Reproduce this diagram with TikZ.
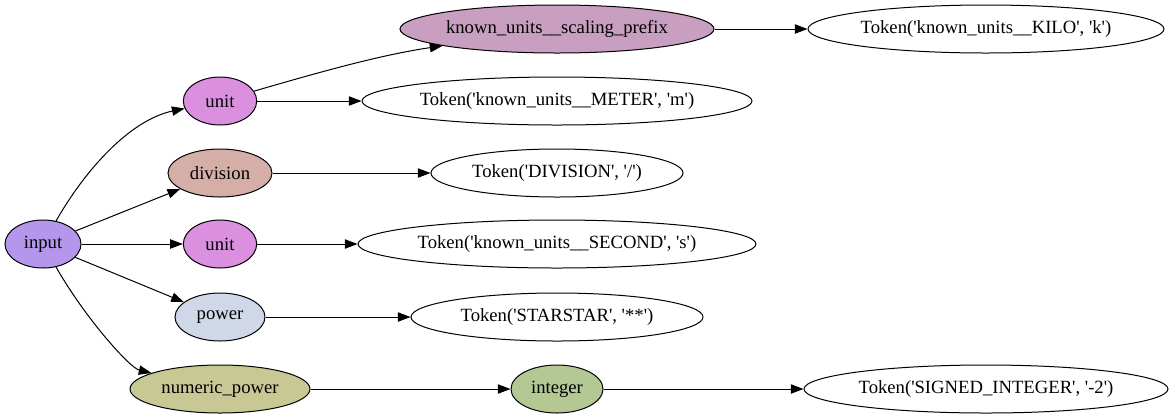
\documentclass[tikz,border=0pt]{standalone}
\usepackage{fontspec}
\setmainfont{Liberation Serif}
\usetikzlibrary{arrows.meta,shapes.geometric}

\definecolor{inputc}{HTML}{B497EC}
\definecolor{unitc}{HTML}{DA90DE}
\definecolor{divc}{HTML}{D6AEA8}
\definecolor{powc}{HTML}{D0D7E8}
\definecolor{numc}{HTML}{C8C895}
\definecolor{intc}{HTML}{B4C894}
\definecolor{prefc}{HTML}{C89FC0}

\newcommand{\q}{\textquotesingle}

\begin{document}
\begin{tikzpicture}[x=0.75pt,y=-0.75pt,
  nd/.style={ellipse,draw,line width=0.75pt,inner sep=0pt,minimum height=36pt,font=\fontsize{14}{16}\selectfont},
  edge/.style={line width=0.75pt,-{Triangle[length=9.5pt,width=7pt]}}]
\useasboundingbox (0,0) rectangle (1176,419);

% rule nodes
\node[nd,fill=inputc,minimum width=57pt] (input) at (43,244) {input};
\node[nd,fill=unitc,minimum width=55pt] (unitA) at (220,101) {unit};
\node[nd,fill=divc,minimum width=78pt] (division) at (220,173) {division};
\node[nd,fill=unitc,minimum width=55pt] (unitB) at (220,244) {unit};
\node[nd,fill=powc,minimum width=67.5pt] (power) at (220,317) {power};
\node[nd,fill=numc,minimum width=135pt] (numpow) at (220,389) {numeric\_power};
\node[nd,fill=prefc,minimum width=235.5pt] (prefix) at (557,29) {known\_units\_\_scaling\_prefix};
\node[nd,fill=intc,minimum width=69pt] (integer) at (557,389) {integer};

% token nodes
\node[nd,minimum width=267pt] (kilo) at (986,29) {Token(\q known\_units\_\_KILO\q, \q k\q)};
\node[nd,minimum width=292.5pt] (meter) at (557,101) {Token(\q known\_units\_\_METER\q, \q m\q)};
\node[nd,minimum width=189pt] (divtok) at (557,173) {Token(\q DIVISION\q, \q/\q)};
\node[nd,minimum width=298.5pt] (second) at (557,244) {Token(\q known\_units\_\_SECOND\q, \q s\q)};
\node[nd,minimum width=219pt] (starstar) at (557,317) {Token(\q STARSTAR\q, \q**\q)};
\node[nd,minimum width=273pt] (signed) at (986,389) {Token(\q SIGNED\_INTEGER\q, \q-2\q)};

% edges
\draw[edge] (input) .. controls (85,170) and (130,120) .. (unitA);
\draw[edge] (input) -- (division);
\draw[edge] (input) -- (unitB);
\draw[edge] (input) -- (power);
\draw[edge] (input) .. controls (85,318) and (130,368) .. (numpow);
\draw[edge] (unitA) .. controls (320,72) and (380,55) .. (prefix);
\draw[edge] (unitA) -- (meter);
\draw[edge] (prefix) -- (kilo);
\draw[edge] (division) -- (divtok);
\draw[edge] (unitB) -- (second);
\draw[edge] (power) -- (starstar);
\draw[edge] (numpow) -- (integer);
\draw[edge] (integer) -- (signed);
\end{tikzpicture}
\end{document}
